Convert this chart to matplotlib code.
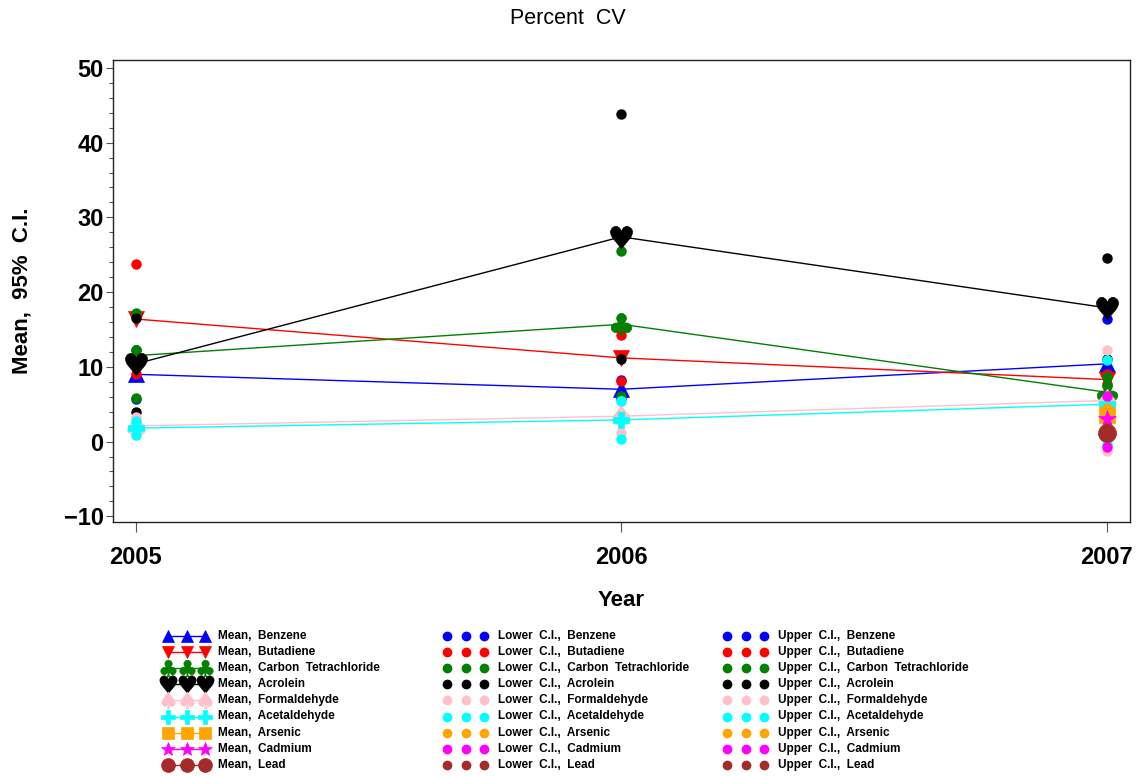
import numpy as np
import matplotlib
matplotlib.use("Agg")
import matplotlib.pyplot as plt
from matplotlib.lines import Line2D

plt.rcParams['font.family'] = ['Liberation Sans', 'DejaVu Sans']

years = [2005, 2006, 2007]
pollutants = ["Benzene", "Butadiene", "Carbon Tetrachloride", "Acrolein",
              "Formaldehyde", "Acetaldehyde", "Arsenic", "Cadmium", "Lead"]
nan = np.nan
mean_benzene = [9.0, 7.0, 10.4]
lower_benzene = [5.7, 5.7, 4.4]
upper_benzene = [12.3, 8.3, 16.4]
mean_butadiene = [16.4, 11.2, 8.3]
lower_butadiene = [9.0, 8.1, 7.7]
upper_butadiene = [23.8, 14.2, 9.0]
mean_carbontet = [11.5, 15.7, 6.6]
lower_carbontet = [5.8, 6.1, 4.5]
upper_carbontet = [17.2, 25.5, 8.7]
mean_acrolein = [10.4, 27.4, 17.9]
lower_acrolein = [4.0, 11.0, 11.1]
upper_acrolein = [16.5, 43.8, 24.6]
mean_formaldehyde = [2.1, 3.4, 5.5]
lower_formaldehyde = [0.9, 1.2, -1.3]
upper_formaldehyde = [3.3, 5.4, 12.3]
mean_acetaldehyde = [1.8, 2.9, 5.0]
lower_acetaldehyde = [0.9, 0.4, -0.3]
upper_acetaldehyde = [2.8, 5.4, 10.9]
mean_arsenic = [nan, nan, 3.6]
lower_arsenic = [nan, nan, 2.7]
upper_arsenic = [nan, nan, 4.5]
mean_cadmium = [nan, nan, 3.0]
lower_cadmium = [nan, nan, -0.7]
upper_cadmium = [nan, nan, 6.1]
mean_lead = [nan, nan, 1.2]
lower_lead = [nan, nan, 0.6]
upper_lead = [nan, nan, 1.8]

means = [mean_benzene, mean_butadiene, mean_carbontet, mean_acrolein, mean_formaldehyde,
         mean_acetaldehyde, mean_arsenic, mean_cadmium, mean_lead]
lowers = [lower_benzene, lower_butadiene, lower_carbontet, lower_acrolein, lower_formaldehyde,
          lower_acetaldehyde, lower_arsenic, lower_cadmium, lower_lead]
uppers = [upper_benzene, upper_butadiene, upper_carbontet, upper_acrolein, upper_formaldehyde,
          upper_acetaldehyde, upper_arsenic, upper_cadmium, upper_lead]

colors = ['#0000FF', '#FF0000', '#008000', '#000000', '#FFC0CB',
          '#00FFFF', '#FFA500', '#FF00FF', '#A52A2A']
markers = ['^', 'v', '$\u2663$', '$\u2665$', '$\u2660$', 'P', 's', '*', 'o']
msizes = [12, 12, 16, 16, 16, 12, 11, 13, 13]
lg_msizes = [9, 9, 12, 12.5, 12, 9.5, 9, 10.5, 10]

W, H = 1136, 776
fig = plt.figure(figsize=(W / 100, H / 100), dpi=100)
ax = fig.add_axes([113.4 / W, 1 - 522.3 / H, (1129.5 - 113.4) / W, (522.3 - 60) / H])

for i in range(len(pollutants)):
    c = colors[i]
    ax.plot(years, means[i], color=c, lw=1.0, marker=markers[i], ms=msizes[i],
            mec=c, mfc=c, mew=0.5, zorder=3 + i * 0.1)
    ax.plot(years, lowers[i], ls='none', marker='o', ms=6.5, color=c, mec=c,
            zorder=3 + i * 0.1 + 0.03)
    ax.plot(years, uppers[i], ls='none', marker='o', ms=6.5, color=c, mec=c,
            zorder=3 + i * 0.1 + 0.06)

ax.set_xlim(2004.954, 2007.047)
ax.set_ylim(-10.8, 51.06)
ax.set_xticks(years)
ax.set_xticklabels([str(y) for y in years])
ax.set_yticks(np.arange(-10, 51, 10))
ax.set_yticks(np.arange(-10, 51, 2), minor=True)
ax.tick_params(axis='x', which='major', length=7, width=0.8, pad=10, labelsize=17,
               color='#555555')
ax.tick_params(axis='y', which='major', length=5, width=0.8, pad=2, labelsize=17,
               color='#555555')
ax.tick_params(axis='y', which='minor', length=3, width=0.8, color='#555555')
for lab in ax.get_xticklabels() + ax.get_yticklabels():
    lab.set_fontweight('bold')
for sp in ax.spines.values():
    sp.set_color('#222222')
    sp.set_linewidth(1.0)

fig.text(568 / W, 1 - 18 / H, "Percent  CV", ha='center', va='center', fontsize=15.5)
fig.text(621 / W, 1 - 600 / H, "Year", ha='center', va='center', fontsize=16,
         fontweight='bold')
fig.text(22.5 / W, 1 - 291 / H, "Mean,  95%  C.I.", ha='center', va='center',
         rotation=90, fontsize=16, fontweight='bold')

# Legend (three columns)
col_x = [(168, 218), (447, 498), (727, 778)]
prefixes = ["Mean,  ", "Lower  C.I.,  ", "Upper  C.I.,  "]
row_y0, row_dy = 636, 16.1
for ci, (mx, tx) in enumerate(col_x):
    for i, name in enumerate(pollutants):
        y = 1 - (row_y0 + i * row_dy) / H
        xs = [mx / W, (mx + 18.5) / W, (mx + 37) / W]
        if ci == 0:
            ln = Line2D(xs, [y] * 3, transform=fig.transFigure, color=colors[i], lw=1.0,
                        marker=markers[i], ms=lg_msizes[i], mfc=colors[i], mec=colors[i],
                        mew=0.5)
        else:
            ln = Line2D(xs, [y] * 3, transform=fig.transFigure, ls='none', color=colors[i],
                        marker='o', ms=6, mfc=colors[i], mec=colors[i])
        fig.add_artist(ln)
        fig.text(tx / W, y, prefixes[ci] + name.replace(" ", "  "), ha='left', va='center',
                 fontsize=8.5, fontweight='bold')

fig.savefig("out.png", dpi=100)
